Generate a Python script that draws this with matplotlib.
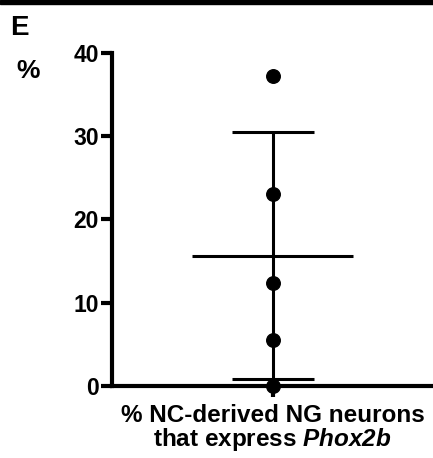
import numpy as np
import matplotlib
matplotlib.use("Agg")
from matplotlib import pyplot as plt
from matplotlib.patches import Rectangle

plt.rcParams['font.family'] = ['Liberation Sans', 'DejaVu Sans']
plt.rcParams['font.weight'] = 'bold'
plt.rcParams['mathtext.fontset'] = 'custom'
plt.rcParams['mathtext.it'] = 'Liberation Sans:italic:bold'
plt.rcParams['mathtext.rm'] = 'Liberation Sans:italic:bold'

# percent of NC-derived NG neurons expressing Phox2b, one value per animal
values = [37.2, 23.1, 12.4, 5.5, 0.0]
category = "% NC-derived NG neurons\nthat express $\\mathit{Phox2b}$"
yticks = [0, 10, 20, 30, 40]

mean = np.mean(values)
sd = np.std(values, ddof=1)

W, H = 433, 458
fig = plt.figure(figsize=(W / 100, H / 100), dpi=100)
ax = fig.add_axes([112 / W, (H - 386) / H, (W - 112) / W, (386 - 53) / H])

x = np.zeros(len(values))
ax.scatter(x, values, s=95, color='black', zorder=5, clip_on=False)
ax.errorbar([0], [mean], yerr=[sd], fmt='none', ecolor='black',
            elinewidth=2.2, capsize=29.5, capthick=2.2, zorder=3)
ax.hlines(mean, -0.5, 0.5, color='black', lw=2.2, zorder=3)

ax.set_xlim(-1, 1)
ax.set_ylim(0, 40)
ax.set_yticks(yticks)
ax.set_xticks([0])
ax.set_xticklabels([category], fontsize=17.5, fontweight='bold', linespacing=0.95)

for side in ['top', 'right']:
    ax.spines[side].set_visible(False)
for side in ['left', 'bottom']:
    ax.spines[side].set_linewidth(3)
ax.tick_params(axis='y', length=8, width=3, pad=1.5, labelsize=16.5)
ax.tick_params(axis='x', length=8, width=3, pad=5)
for lab in ax.get_yticklabels():
    lab.set_fontweight('bold')

# panel letter, axis unit and the rule at the top of the panel
fig.text(10 / W, 1 - 28 / H, "E", fontsize=20, fontweight='bold', va='center', ha='left')
fig.text(28 / W, 1 - 71 / H, "%", fontsize=19, fontweight='bold', va='center', ha='center')
fig.patches.append(Rectangle((0, 1 - 4 / H), 1, 4 / H, transform=fig.transFigure,
                             color='black', figure=fig))

fig.savefig('out.png', dpi=100)
